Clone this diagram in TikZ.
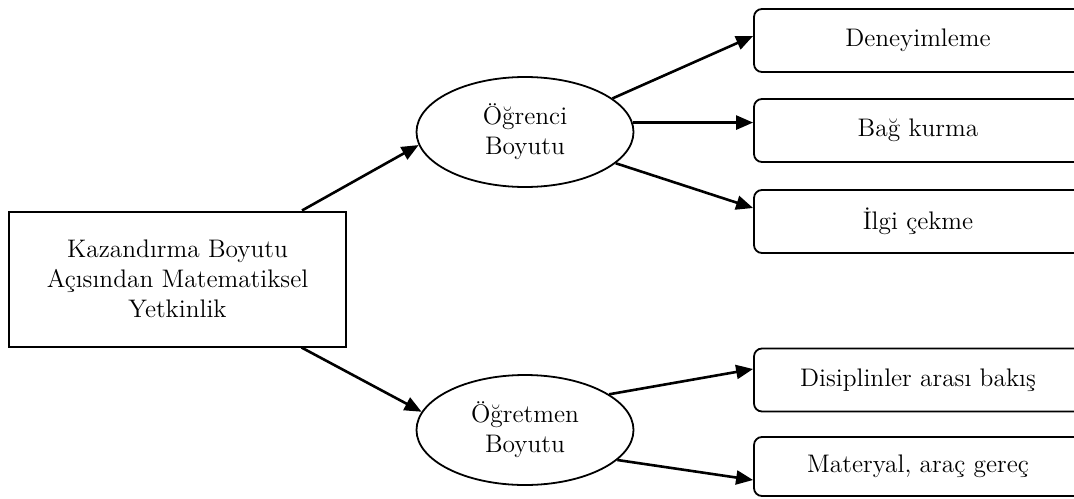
\documentclass[tikz,border=0pt]{standalone}
\usepackage{fontspec}
\usetikzlibrary{arrows.meta,shapes.geometric,calc}
\begin{document}
\begin{tikzpicture}[x=0.5pt,y=-0.5pt,
  txt/.style={font=\fontsize{12.7}{15}\selectfont, align=center, text=black},
  mainbox/.style={txt, draw, line width=1pt, minimum width=168.5pt, minimum height=67.5pt, inner sep=0pt},
  dimell/.style={txt, draw, ellipse, line width=0.9pt, minimum width=108.5pt, minimum height=55pt, inner sep=0pt},
  itembox/.style={txt, draw, rounded corners=4pt, line width=0.9pt, minimum width=164pt, minimum height=31.5pt, inner sep=0pt},
  arr/.style={line width=1.3pt, -{Triangle[length=8.5pt,width=7pt]}}
]
\useasboundingbox (0,0) rectangle (1074,498);
\clip (0,0) rectangle (1074,498);

\node[mainbox] (main) at (177.5,279) {Kazandırma Boyutu\\Açısından Matematiksel\\Yetkinlik};

\node[dimell] (o1) at (525,132) {Öğrenci\\Boyutu};
\node[dimell] (o2) at (525,430) {Öğretmen\\Boyutu};

\node[itembox] (b1) at (918,40.5) {Deneyimleme};
\node[itembox] (b2) at (918,130.5) {Bağ kurma};
\node[itembox] (b3) at (918,221.5) {İlgi çekme};
\node[itembox] (b4) at (918,380) {Disiplinler arası bakış};
\node[itembox, minimum height=29.5pt] (b5) at (918,466.5) {Materyal, araç gereç};

\draw[arr] ([xshift=62.25pt]main.north) -- (o1.187);
\draw[arr] ([xshift=62pt]main.south) -- (o2.170);

\draw[arr] (o1.21.6) -- ([yshift=2.25pt]b1.west);
\draw[arr] (o1.5) -- (o1.5 -| b2.west);
\draw[arr] (o1.-19.4) -- ([yshift=6.75pt]b3.west);

\draw[arr] (o2.23.6) -- ([yshift=5.5pt]b4.west);
\draw[arr] (o2.-18.8) -- ([yshift=-6.75pt]b5.west);
\end{tikzpicture}
\end{document}
